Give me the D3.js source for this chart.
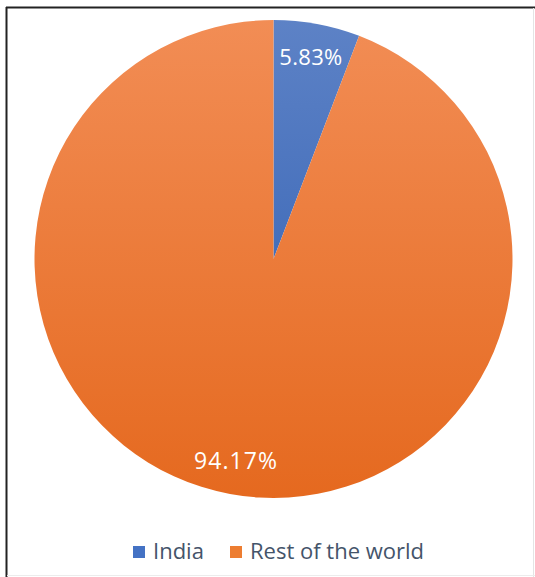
<!DOCTYPE html>
<html>
<head>
<meta charset="utf-8">
<script src="https://cdn.jsdelivr.net/npm/d3@7"></script>
<style>
  body { margin: 0; background: #fff; }
  text { font-family: "Open Sans", sans-serif; }
</style>
</head>
<body>
<div id="wrapper"></div>
<script>
const categories = ["India", "Rest of the world"];
const shares = [5.83, 94.17];
const labels = ["5.83%", "94.17%"];
const gradientStops = [
  ["#5d82c6", "#2b5bb0"],
  ["#f28d55", "#e5691f"],
];
const legendSwatch = ["#4472c4", "#ed7d31"];

function drawPie() {
  const width = 535;
  const height = 577;
  const cx = 273.5;
  const cy = 259;
  const radius = 239;
  // label type differs a little between the two slices in the original
  const labelStyle = [
    { size: 22, spacing: 0.3 },
    { size: 23, spacing: 1.1 },
  ];

  const svg = d3.select("#wrapper")
    .append("svg")
      .attr("width", width)
      .attr("height", height);

  // frame: dark on top/left, faint on right/bottom
  svg.append("line").attr("x1", 6).attr("x2", width).attr("y1", 7.5).attr("y2", 7.5)
    .attr("stroke", "#222").attr("stroke-width", 2);
  svg.append("line").attr("x1", 6.5).attr("x2", 6.5).attr("y1", 7).attr("y2", height)
    .attr("stroke", "#222").attr("stroke-width", 2);
  svg.append("line").attr("x1", width - 1.5).attr("x2", width - 1.5).attr("y1", 8).attr("y2", height)
    .attr("stroke", "#e4e4e4").attr("stroke-width", 1);
  svg.append("line").attr("x1", 7).attr("x2", width).attr("y1", height - 1.5).attr("y2", height - 1.5)
    .attr("stroke", "#ececec").attr("stroke-width", 1);

  const defs = svg.append("defs");
  gradientStops.forEach((stops, i) => {
    const g = defs.append("linearGradient")
      .attr("id", `grad-${i}`)
      .attr("gradientUnits", "userSpaceOnUse")
      .attr("x1", 0).attr("x2", 0)
      .attr("y1", -radius).attr("y2", radius);
    g.append("stop").attr("offset", "0%").attr("stop-color", stops[0]);
    g.append("stop").attr("offset", "100%").attr("stop-color", stops[1]);
  });

  const pie = d3.pie().sort(null).value(d => d);
  const arcs = pie(shares);

  const arc = d3.arc().innerRadius(0).outerRadius(radius);
  const labelArc = d3.arc().innerRadius(radius * 0.72).outerRadius(radius);

  const bounds = svg.append("g")
    .attr("transform", `translate(${cx}, ${cy})`);

  bounds.selectAll("path")
    .data(arcs)
    .join("path")
      .attr("d", arc)
      .attr("fill", (d, i) => `url(#grad-${i})`);

  bounds.selectAll("text")
    .data(arcs)
    .join("text")
      .attr("transform", d => `translate(${labelArc.centroid(d)})`)
      .attr("text-anchor", "middle")
      .attr("dy", "0.36em")
      .attr("fill", "#fff")
      .style("font-size", (d, i) => `${labelStyle[i].size}px`)
      .style("letter-spacing", (d, i) => `${labelStyle[i].spacing}px`)
      .text((d, i) => labels[i]);

  // legend
  const legendX = [133, 230];
  const legend = svg.append("g");
  categories.forEach((name, i) => {
    legend.append("rect")
      .attr("x", legendX[i]).attr("y", 546)
      .attr("width", 12).attr("height", 12)
      .attr("fill", legendSwatch[i]);
    legend.append("text")
      .attr("x", legendX[i] + 20).attr("y", 559)
      .attr("fill", "#44546a")
      .style("font-size", "22px")
      .text(name);
  });
}
drawPie();
</script>
</body>
</html>
